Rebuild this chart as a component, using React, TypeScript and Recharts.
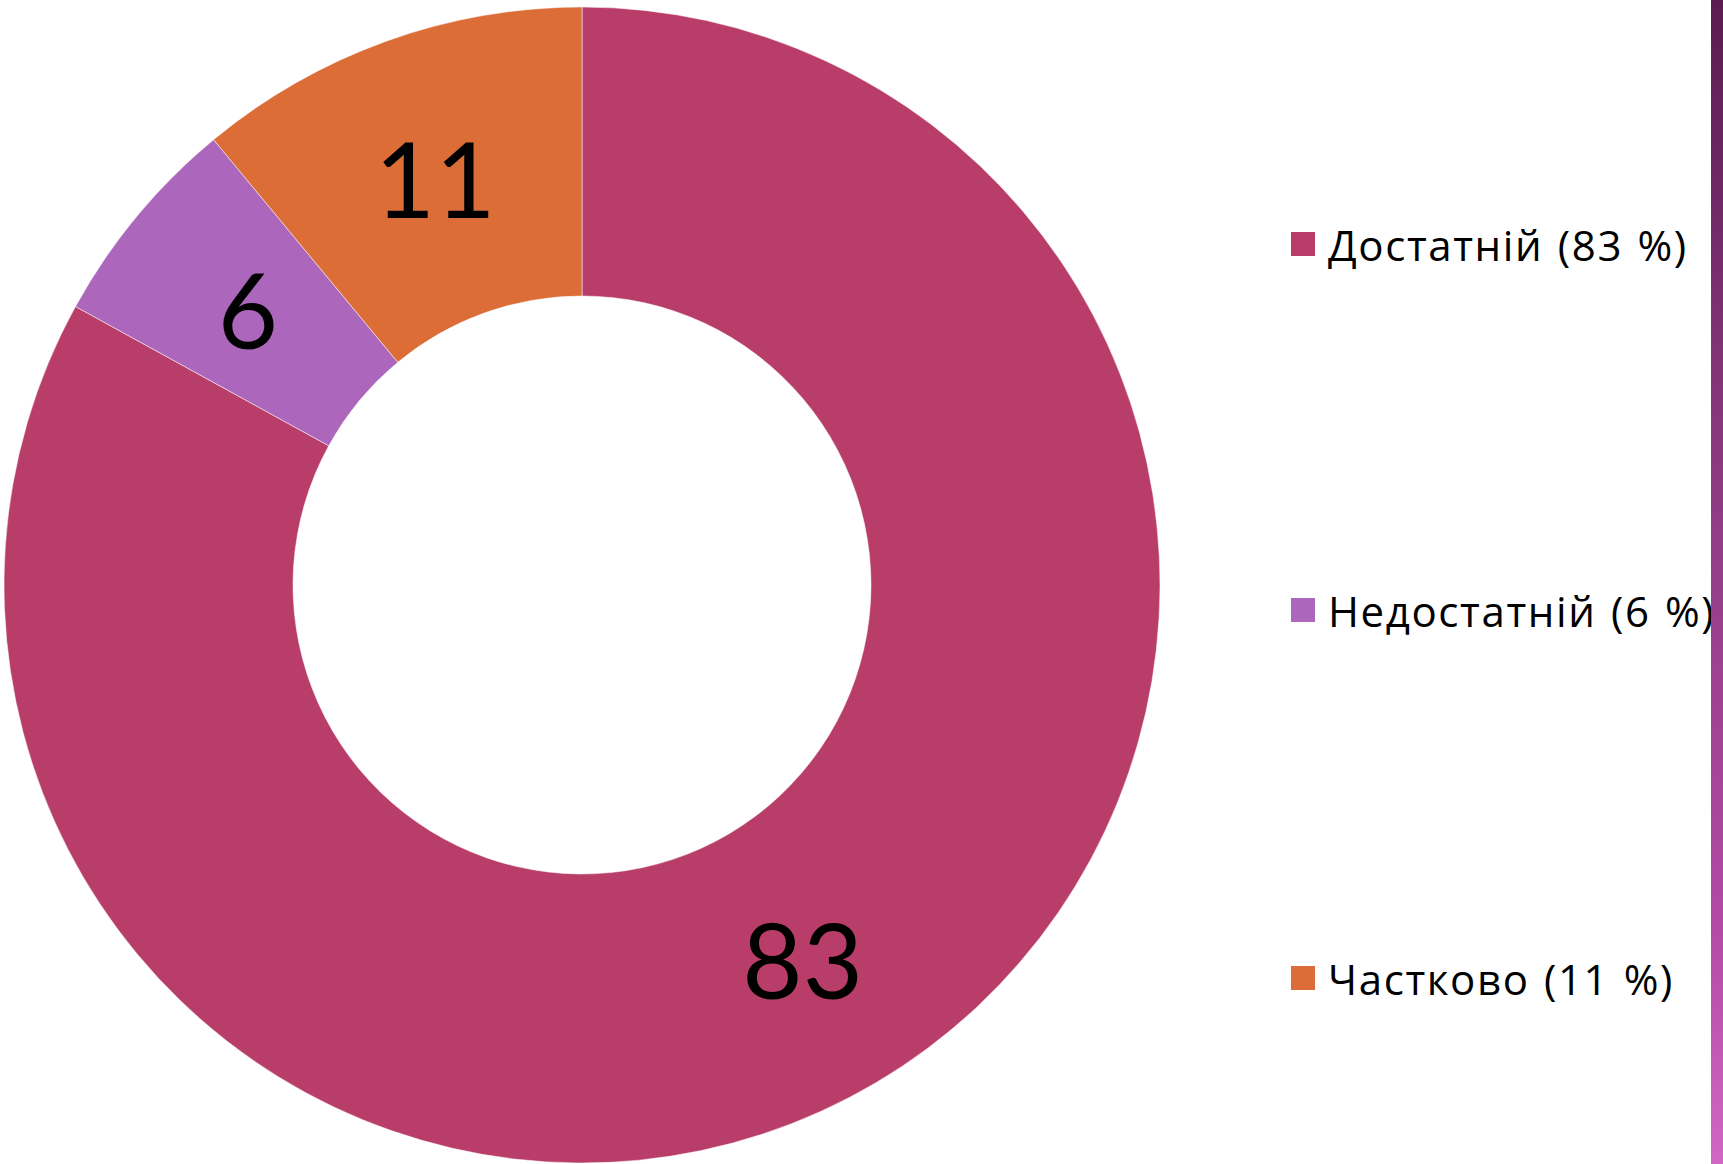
import { PieChart, Pie, Cell, Legend } from 'recharts';

const categories = ['Достатній', 'Недостатній', 'Частково'];
const values = [83, 6, 11];
const colors = ['#B83D68', '#AC66BB', '#DD6D37'];

const data = categories.map((name, i) => ({ name, value: values[i], color: colors[i] }));

const RAD = Math.PI / 180;

function renderLabel(props: any) {
  const { cx, cy, midAngle, innerRadius, outerRadius, value } = props;
  const r = (innerRadius + outerRadius) / 2;
  const x = cx + r * Math.cos(-midAngle * RAD);
  const y = cy + r * Math.sin(-midAngle * RAD);
  return (
    <text
      x={x}
      y={y}
      fill="#000"
      textAnchor="middle"
      dominantBaseline="central"
      style={{ fontFamily: 'Lato, sans-serif', fontSize: 104 }}
    >
      {value}
    </text>
  );
}

function LegendBox() {
  const tops = [244, 610, 978];
  return (
    <div style={{ position: 'relative', width: 430, height: 1164 }}>
      {data.map((d, i) => (
        <div
          key={d.name}
          style={{
            position: 'absolute',
            left: 0,
            top: tops[i] - 30,
            height: 60,
            display: 'flex',
            alignItems: 'center',
            whiteSpace: 'pre',
            fontFamily: '"Open Sans", sans-serif',
            fontSize: 42,
            letterSpacing: 1.6,
            wordSpacing: 2,
            color: '#000',
          }}
        >
          <span style={{ width: 24, height: 24, background: d.color, marginRight: 13, display: 'inline-block' }} />
          {`${d.name} (${d.value} %)`}
        </div>
      ))}
    </div>
  );
}

export default function App() {
  return (
    <div style={{ position: 'absolute', left: 0, top: 0, width: 1723, height: 1164, background: '#fff', overflow: 'hidden' }}>
      <PieChart width={1723} height={1164}>
        <Pie
          data={data}
          dataKey="value"
          nameKey="name"
          cx={577}
          cy={580}
          innerRadius={289}
          outerRadius={578}
          startAngle={90}
          endAngle={-270}
          stroke="#ffffff"
          strokeWidth={0.5}
          label={renderLabel}
          labelLine={false}
          isAnimationActive={false}
        >
          {data.map((d) => (
            <Cell key={d.name} fill={d.color} />
          ))}
        </Pie>
        <Legend
          content={() => <LegendBox />}
          wrapperStyle={{ position: 'absolute', left: 1291, top: 0, width: 430, height: 1164 }}
        />
      </PieChart>
      <div
        style={{
          position: 'absolute',
          left: 1711,
          top: 0,
          width: 12,
          height: 1164,
          background: 'linear-gradient(to bottom, #5b1c52, #8c3a80 40%, #b34aa5 80%, #d266c4)',
        }}
      />
    </div>
  );
}
